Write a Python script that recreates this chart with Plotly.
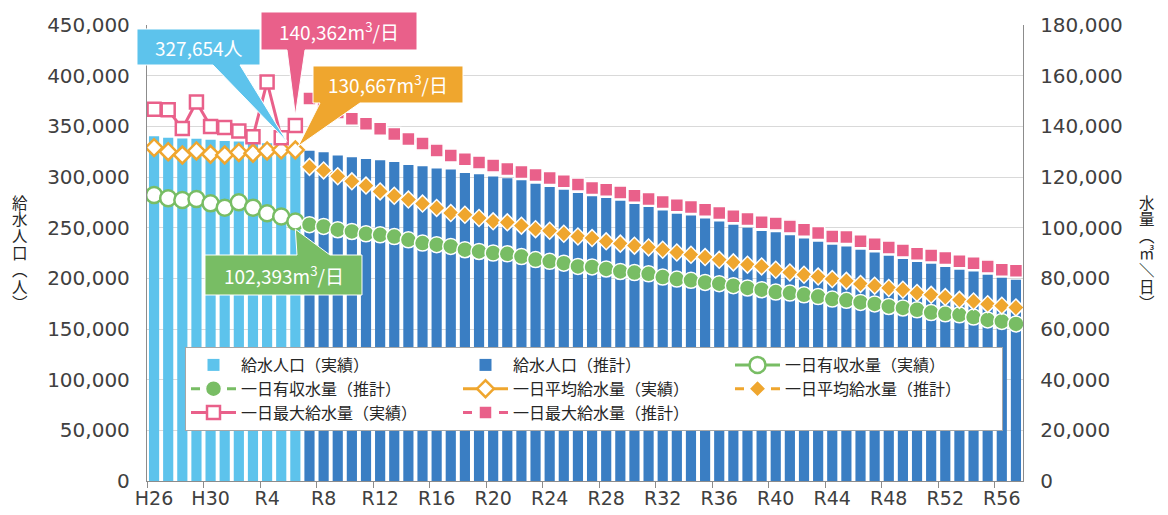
import plotly.graph_objects as go

# 年度（H31 = R1）
years_actual = ["H26", "H27", "H28", "H29", "H30", "R1", "R2", "R3", "R4", "R5", "R6"]
years_forecast = [
    "R7", "R8", "R9", "R10", "R11", "R12", "R13", "R14", "R15", "R16", "R17",
    "R18", "R19", "R20", "R21", "R22", "R23", "R24", "R25", "R26", "R27", "R28",
    "R29", "R30", "R31", "R32", "R33", "R34", "R35", "R36", "R37", "R38", "R39",
    "R40", "R41", "R42", "R43", "R44", "R45", "R46", "R47", "R48", "R49", "R50",
    "R51", "R52", "R53", "R54", "R55", "R56", "R57",
]
years = years_actual + years_forecast

# 給水人口（人）
pop_actual = [340200, 338800, 338000, 337700, 336800, 335500, 335000, 334200, 333400, 332600, 327654]
pop_forecast = [
    326000, 324400, 321100, 319400, 317800, 316500, 314800, 311900, 310500, 308500,
    307300, 304000, 302600, 300600, 298700, 296700, 293400, 290200, 287500, 284200,
    280900, 279300, 276600, 273300, 270300, 267000, 263800, 262100, 259100, 256200,
    252900, 249900, 246600, 245500, 242400, 239400, 236100, 233200, 231500, 228200,
    225600, 222300, 219000, 216100, 214400, 211100, 208500, 206800, 203500, 200600,
    198600,
]

# 一日有収水量（m3/日）
eff_actual = [112900, 111600, 110900, 111300, 109600, 107900, 110000, 107900, 105700, 104400, 102393]
eff_forecast = [
    101200, 100500, 99200, 98500, 97600, 97200, 96500, 95200, 93900, 93300,
    92600, 91300, 90600, 90000, 89700, 88600, 87400, 86700, 86000, 84700,
    84500, 83700, 82700, 82300, 81800, 80500, 79700, 79200, 78400, 77900,
    77100, 76200, 75500, 74600, 74200, 73500, 72800, 71800, 71300, 70500,
    69900, 68900, 68300, 67600, 66500, 66000, 65600, 64700, 63600, 63000,
    62000,
]

# 一日平均給水量（m3/日）
avg_actual = [131600, 130000, 128700, 130300, 129000, 128700, 129700, 129400, 130300, 130700, 130667]
avg_forecast = [
    124000, 122600, 120300, 118300, 116600, 114300, 112600, 111100, 109500, 107800,
    105800, 105100, 103800, 102500, 102100, 100800, 99400, 98800, 97600, 96500,
    95900, 94600, 93700, 92900, 92200, 91300, 90200, 89300, 88400, 87300,
    86300, 85400, 84700, 83400, 82300, 81400, 80700, 79700, 79000, 77800,
    77100, 76200, 75500, 74200, 73500, 72600, 71500, 70900, 69800, 69200,
    68500,
]

# 一日最大給水量（m3/日）
max_actual = [146700, 146500, 139100, 149600, 139900, 139500, 138200, 135900, 157500, 135500, 140362]
max_forecast = [
    151000, 147800, 145500, 143000, 141000, 139000, 137000, 135000, 133200, 130500,
    128500, 127000, 125700, 124500, 123200, 122000, 120800, 119600, 118300, 117000,
    115700, 115000, 113900, 112600, 111300, 110100, 108800, 108200, 107100, 105800,
    104500, 103400, 102100, 101600, 100500, 99200, 97900, 96500, 96300, 94600,
    93500, 92200, 91000, 89700, 89000, 88000, 86700, 86000, 84700, 83400,
    83000,
]

# 縦書きの軸タイトル（1文字ずつ）
title_left = ["給", "水", "人", "口", "︵", "人", "︶"]
title_right = ["水", "量", "︵", "㎥", "＼", "日", "︶"]

POP_MAX = 450000
WATER_MAX = 180000

C_POP_A = "#5DC3EC"
C_POP_F = "#3A7EC3"
C_EFF = "#78BD64"
C_AVG = "#EFA62E"
C_MAX = "#E9608A"

FONT_JP = "Noto Sans CJK JP"
FONT_NUM = "DejaVu Sans"

# ページの body 余白 8px を差し引いた図のサイズ
PAGE_PAD = 8
W, H = 1168 - PAGE_PAD, 515 - PAGE_PAD
# プロット領域（画面上の px）
PLOT_L, PLOT_R, PLOT_T, PLOT_B = 147, 1023, 25, 481
ML = PLOT_L - PAGE_PAD
MR = W - (PLOT_R - PAGE_PAD)
MT = PLOT_T - PAGE_PAD
MB = H - (PLOT_B - PAGE_PAD)
PW, PH = PLOT_R - PLOT_L, PLOT_B - PLOT_T


def px_x(px):
    return (px - PLOT_L) / PW


def px_y(py):
    return (PLOT_B - py) / PH


def cat_x(i, shift=0.0):
    return (i + 0.5 + shift) / len(years)


fig = go.Figure()

fig.add_trace(go.Bar(x=years_actual, y=pop_actual, name="給水人口（実績）",
                     marker=dict(color=C_POP_A, line_width=0)))
fig.add_trace(go.Bar(x=years_forecast, y=pop_forecast, name="給水人口（推計）",
                     marker=dict(color=C_POP_F, line_width=0)))

series = [
    ("一日有収水量", eff_actual, eff_forecast, C_EFF, "circle", 16),
    ("一日平均給水量", avg_actual, avg_forecast, C_AVG, "diamond", 13),
    ("一日最大給水量", max_actual, max_forecast, C_MAX, "square", 13),
]
for name, act, fc, col, sym, size in series:
    fig.add_trace(go.Scatter(
        x=years_actual, y=act, name=name + "（実績）", yaxis="y2",
        mode="lines+markers", line=dict(color=col, width=3),
        marker=dict(symbol=sym, size=size, color="white", line=dict(color=col, width=2.5)),
    ))
    fig.add_trace(go.Scatter(
        x=years_forecast, y=fc, name=name + "（推計）", yaxis="y2",
        mode="lines+markers", line=dict(color=col, width=3, dash="dash"),
        marker=dict(symbol=sym, size=size, color=col, line=dict(color="white", width=1.5)),
    ))

# 吹き出し
last = len(years_actual) - 1
callouts = [
    # text, colour, box(l,t,r,b) px, wedge base x px, edge, tip (paper)
    ("327,654人", C_POP_A, (137, 29, 260, 65), (213, 240), "bottom",
     (cat_x(last, -0.6), (pop_actual[-1] + 7500) / POP_MAX)),
    ("140,362m<sup>3</sup>/日", C_MAX, (261, 12, 417, 50), (287, 305), "bottom",
     (cat_x(last, 0.0), (max_actual[-1] + 4000) / WATER_MAX)),
    ("130,667m<sup>3</sup>/日", C_AVG, (313, 66, 463, 103), (320, 360), "bottom",
     (cat_x(last, 0.2), (avg_actual[-1] + 1500) / WATER_MAX)),
    ("102,393m<sup>3</sup>/日", C_EFF, (205, 255, 362, 295), (297, 330), "top",
     (cat_x(last, 0.0), (eff_actual[-1] - 3000) / WATER_MAX)),
]
shapes = []
annotations = []
for text, col, (l, t, r, b), (b1, b2), edge, (tx, ty) in callouts:
    x0, x1, y0, y1 = px_x(l), px_x(r), px_y(t), px_y(b)
    w1, w2 = px_x(b1), px_x(b2)
    if edge == "bottom":
        pts = [(x0, y0), (x1, y0), (x1, y1), (w2, y1), (tx, ty), (w1, y1), (x0, y1)]
    else:
        pts = [(x0, y0), (w1, y0), (tx, ty), (w2, y0), (x1, y0), (x1, y1), (x0, y1)]
    path = "M " + " L ".join(f"{px:.5f},{py:.5f}" for px, py in pts) + " Z"
    shapes.append(dict(type="path", xref="paper", yref="paper", path=path,
                       fillcolor=col, line=dict(color="white", width=1), layer="above"))
    annotations.append(dict(xref="paper", yref="paper", x=(x0 + x1) / 2, y=(y0 + y1) / 2,
                            text=text, showarrow=False, xanchor="center", yanchor="middle",
                            font=dict(family=FONT_JP, size=19, color="white")))

# 縦書き：1文字ずつ積み上げる
for chars, cx in ((title_left, 20), (title_right, 1147)):
    step = 16.8
    top = 252 - step * (len(chars) - 1) / 2
    for k, ch in enumerate(chars):
        annotations.append(dict(xref="paper", yref="paper", x=px_x(cx), y=px_y(top + k * step),
                                text=ch, showarrow=False, xanchor="center", yanchor="middle",
                                font=dict(family=FONT_JP, size=15.5, color="#262626")))

fig.update_layout(
    width=W, height=H,
    margin=dict(l=ML, r=MR, t=MT, b=MB, autoexpand=False),
    paper_bgcolor="white", plot_bgcolor="white",
    barmode="overlay", bargap=0.28,
    font=dict(family=FONT_JP, color="#333333"),
    xaxis=dict(
        type="category", categoryorder="array", categoryarray=years,
        range=[-0.5, len(years) - 0.5],
        tickmode="linear", tick0=0, dtick=4, tickson="boundaries",
        ticks="outside", ticklen=6, tickcolor="#8C8C8C", tickangle=0,
        showgrid=False, showline=True, linecolor="#8C8C8C", linewidth=1.3,
        automargin=False,
        tickfont=dict(family=FONT_NUM, size=19, color="#404040"),
    ),
    yaxis=dict(
        range=[0, POP_MAX], dtick=50000, tickformat=",",
        showgrid=True, gridcolor="#D9D9D9", gridwidth=1,
        showline=True, linecolor="#8C8C8C", linewidth=1.3,
        zeroline=False, ticks="", ticklabelstandoff=12, automargin=False,
        tickfont=dict(family=FONT_NUM, size=20, color="#404040"),
    ),
    yaxis2=dict(
        range=[0, WATER_MAX], dtick=20000, tickformat=",",
        overlaying="y", side="right", showgrid=False,
        showline=True, linecolor="#8C8C8C", linewidth=1.3,
        zeroline=False, ticks="", ticklabelstandoff=12, automargin=False,
        tickfont=dict(family=FONT_NUM, size=20, color="#404040"),
    ),
    legend=dict(
        orientation="h", x=px_x(185), y=px_y(347), xanchor="left", yanchor="top",
        bgcolor="white", bordercolor="#A6A6A6", borderwidth=1,
        font=dict(family=FONT_JP, size=16, color="#262626"),
        entrywidth=212, itemwidth=45, traceorder="normal",
    ),
    shapes=shapes,
    annotations=annotations,
)

fig.write_html("out.html")
